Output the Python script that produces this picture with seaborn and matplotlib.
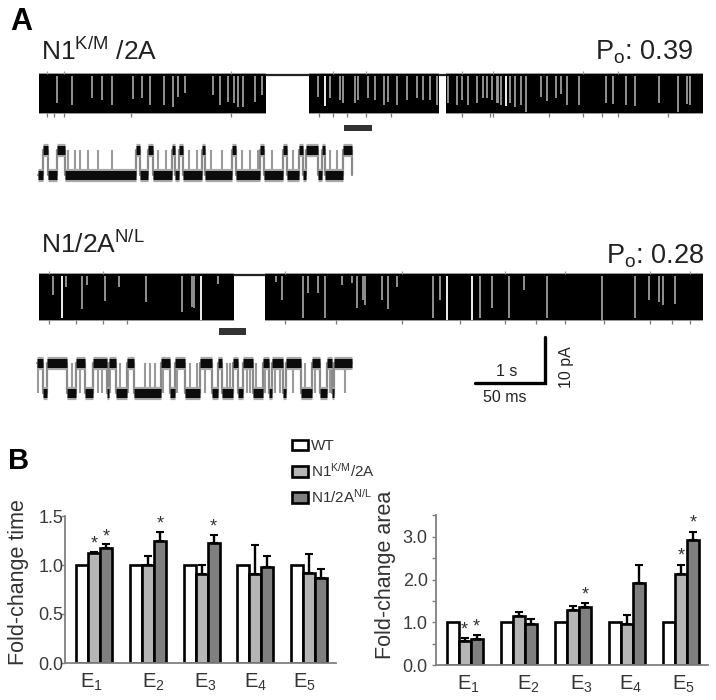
import pandas as pd
import matplotlib
matplotlib.use('Agg')
import matplotlib.pyplot as plt
import seaborn as sns

sns.set_theme(style='white')
plt.rcParams['font.family'] = ['Liberation Sans', 'DejaVu Sans']
plt.rcParams['mathtext.default'] = 'regular'

# --- bar chart data ---
events = ['$E_1$', '$E_2$', '$E_3$', '$E_4$', '$E_5$']
groups = ['WT', 'N1$^{K/M}$/2A', 'N1/2A$^{N/L}$']

time_wt = [1.0, 1.0, 1.0, 1.0, 1.0]
time_km = [1.12, 1.0, 0.91, 0.91, 0.92]
time_nl = [1.17, 1.25, 1.22, 0.98, 0.87]
time_km_err = [0.01, 0.09, 0.09, 0.29, 0.19]
time_nl_err = [0.04, 0.09, 0.09, 0.11, 0.09]
time_km_sig = [1, 0, 0, 0, 0]
time_nl_sig = [1, 1, 1, 0, 0]

area_wt = [1.0, 1.0, 1.0, 1.0, 1.0]
area_km = [0.57, 1.15, 1.28, 0.97, 2.13]
area_nl = [0.60, 0.97, 1.35, 1.92, 2.92]
area_km_err = [0.06, 0.10, 0.09, 0.20, 0.22]
area_nl_err = [0.10, 0.10, 0.10, 0.41, 0.20]
area_km_sig = [1, 0, 0, 0, 1]
area_nl_sig = [1, 0, 1, 0, 1]

bar_colors = ['#ffffff', '#b5b5b5', '#7f7f7f']

# the E labels do not sit quite under their groups in the original
time_label_shift = [-0.04, 0.11, 0.07, 0.0, -0.09]
area_label_shift = [0.07, 0.18, 0.15, 0.07, 0.04]

# --- current traces (x, y in image pixels) ---
trace1_open = [(39, 266), (309, 439), (446, 703)]
trace1_levels = (74, 113)
trace1_closed = [(266, 309), (439, 446)]
trace1_dips = [(57, 103), (72, 105), (92, 98), (102, 100), (112, 105), (133, 99), (142, 98),
               (150, 105), (164, 105), (173, 107), (178, 97), (185, 93), (213, 95), (220, 105),
               (228, 102), (234, 103), (238, 107), (243, 107), (255, 102), (262, 95),
               (318, 97), (330, 98), (340, 100), (343, 103), (355, 103), (358, 100), (368, 98),
               (375, 100), (384, 105), (388, 102), (397, 105), (407, 100), (417, 98), (423, 100),
               (430, 100), (437, 105), (448, 103), (457, 105), (462, 100), (468, 105), (477, 103),
               (483, 98), (492, 100), (498, 103), (487, 98), (497, 103), (501, 105), (510, 103),
               (515, 107), (521, 105), (526, 112), (541, 97), (547, 101), (556, 98), (561, 94),
               (567, 105), (579, 105), (606, 103), (613, 104), (626, 105), (635, 106), (659, 103),
               (678, 112), (687, 104), (690, 105)]
trace1_white = [(325, 106), (506, 106)]
trace1_ticks = [47, 54, 64, 131, 231, 319, 333, 347, 366, 391, 462, 490, 493, 549, 583, 602, 618, 668]

trace2_open = [(39, 234), (265, 703)]
trace2_levels = (274, 320)
trace2_closed = [(234, 265)]
trace2_dips = [(53, 295), (66, 287), (82, 309), (87, 285), (105, 301), (119, 287), (146, 302),
               (182, 312), (192, 307), (194, 308), (218, 284), (276, 282), (282, 300), (303, 318),
               (308, 293), (318, 293), (325, 318), (342, 285), (352, 283), (357, 308), (363, 300),
               (365, 305), (382, 300), (388, 309), (397, 287), (433, 318), (440, 300), (480, 318),
               (492, 308), (509, 318), (524, 290), (547, 318), (602, 320), (635, 318), (649, 300),
               (659, 302), (663, 305), (675, 304)]
trace2_white = [(62, 318), (201, 320), (447, 320), (472, 320)]
trace2_ticks = [49, 76, 103, 127, 285, 336, 402, 460, 505, 536, 565, 604, 650, 672, 690]

detail1_x = (38, 352)
detail1_levels = (175, 150)
detail1_bursts = [(43, 48), (57, 65), (136, 140), (148, 153), (172, 175), (179, 183), (202, 205),
                  (232, 236), (260, 264), (283, 287), (299, 303), (306, 318), (322, 325), (343, 352)]
detail1_spikes = [68, 75, 80, 88, 98, 112, 158, 166, 189, 197, 211, 222, 242, 250, 258, 272, 293, 330, 337]

detail2_x = (37, 352)
detail2_levels = (363, 393)
detail2_bursts = [(43, 47), (67, 76), (85, 93), (107, 109), (116, 127), (134, 161), (170, 175),
                  (185, 200), (212, 218), (222, 233), (238, 243), (253, 263), (269, 272),
                  (283, 286), (301, 312), (320, 327), (332, 334)]
detail2_spikes = [38, 72, 80, 93, 98, 102, 110, 120, 128, 145, 150, 155, 163, 177, 190, 197, 205,
                  227, 230, 247, 250, 256, 265, 275, 280, 293, 305, 315, 330, 345]

# --- figure ---
fig = plt.figure(figsize=(7.16, 7.0), dpi=100)
canvas = fig.add_axes([0, 0, 1, 1])
canvas.set_xlim(0, 716)
canvas.set_ylim(700, 0)
canvas.axis('off')


def draw_band(open_segs, levels, closed, dips, white, ticks):
    top, bottom = levels
    for x0, x1 in open_segs:
        canvas.fill_between([x0, x1], top - 1, bottom + 1, color='#999999', lw=0)
        canvas.fill_between([x0, x1], top, bottom, color='black', lw=0)
    for x0, x1 in closed:
        canvas.plot([x0, x1], [top + 1, top + 1], color='#222222', lw=1.6)
    canvas.vlines([d[0] for d in dips], top + 2, [d[1] for d in dips], color='#9c9c9c', lw=1.3)
    canvas.vlines([d[0] for d in white], top + 2, [d[1] for d in white], color='#f0f0f0', lw=1.4)
    canvas.vlines(ticks, bottom, bottom + 4, color='#777777', lw=0.9)
    canvas.vlines(ticks[::2], top - 3, top, color='#999999', lw=0.9)


def draw_detail(x_range, levels, bursts, spikes):
    base, alt = levels
    xs, ys = [x_range[0]], [base]
    for x0, x1 in bursts:
        xs += [x0, x0, x1, x1]
        ys += [base, alt, alt, base]
    xs.append(x_range[1])
    ys.append(base)
    canvas.plot(xs, ys, color='#8a8a8a', lw=1.6, zorder=2)
    start = x_range[0]
    stretches = []
    for x0, x1 in bursts:
        stretches.append((x0, x1, alt))
        stretches.append((start, x0, base))
        start = x1
    stretches.append((start, x_range[1], base))
    for x0, x1, y in stretches:
        canvas.plot([x0, x1], [y, y], color='#a8a8a8', lw=9.5, solid_capstyle='butt', zorder=2)
    for x0, x1, y in stretches:
        canvas.plot([x0, x1], [y, y], color='#0c0c0c', lw=6.5, solid_capstyle='butt', zorder=3)
    canvas.vlines(spikes, base, alt, color='#9a9a9a', lw=1.5, zorder=1)


draw_band(trace1_open, trace1_levels, trace1_closed, trace1_dips, trace1_white, trace1_ticks)
draw_band(trace2_open, trace2_levels, trace2_closed, trace2_dips, trace2_white, trace2_ticks)
draw_detail(detail1_x, detail1_levels, detail1_bursts, detail1_spikes)
draw_detail(detail2_x, detail2_levels, detail2_bursts, detail2_spikes)

# bars marking the expanded stretch
canvas.fill_between([344, 372], 125, 131, color='#333333', lw=0)
canvas.fill_between([219, 246], 328, 335, color='#333333', lw=0)

# scale bar
canvas.plot([475, 545, 545], [383, 383, 337], color='black', lw=2.4, solid_joinstyle='miter')
canvas.text(507, 372, '1 s', fontsize=11.5, ha='center', va='center', color='#222222')
canvas.text(505, 398, '50 ms', fontsize=11.5, ha='center', va='center', color='#222222')
canvas.text(566, 367, '10 pA', fontsize=11.5, ha='center', va='center', rotation=90, color='#222222')

# panel text
canvas.text(10, 22, 'A', fontsize=22, fontweight='bold', va='center', color='black')
canvas.text(8, 461, 'B', fontsize=21, fontweight='bold', va='center', color='black')
canvas.text(41, 60, 'N1$^{K/M}$ /2A', fontsize=19, va='baseline', color='#222222')
canvas.text(41, 253, 'N1/2A$^{N/L}$', fontsize=19, va='baseline', color='#222222')
canvas.text(693, 60, 'P$_o$: 0.39', fontsize=19.5, ha='right', va='baseline', color='#222222')
canvas.text(704, 263, 'P$_o$: 0.28', fontsize=19.5, ha='right', va='baseline', color='#222222')


def bar_panel(rect, xlim, ylim, major, minor, wt, km, nl, km_err, nl_err, km_sig, nl_sig,
              label, label_xy, star_gap, label_shift, ypad):
    ax = fig.add_axes(rect)
    ax.patch.set_alpha(0)
    df = pd.DataFrame({
        'event': events * 3,
        'group': [groups[0]] * 5 + [groups[1]] * 5 + [groups[2]] * 5,
        'value': wt + km + nl,
    })
    sns.barplot(data=df, x='event', y='value', hue='group', palette=bar_colors, edgecolor='black',
                linewidth=1.9, width=0.67, gap=0, errorbar=None, saturation=1, legend=False, ax=ax)
    errs = [km_err, nl_err]
    sigs = [km_sig, nl_sig]
    for cont, err, sig in zip(ax.containers[1:3], errs, sigs):
        xs = [p.get_x() + p.get_width() / 2 for p in cont.patches]
        hs = [p.get_height() for p in cont.patches]
        ax.errorbar(xs, hs, yerr=[[0] * 5, err], fmt='none', ecolor='black', elinewidth=1.7,
                    capsize=3.2, capthick=1.5)
        for x, h, e, s in zip(xs, hs, err, sig):
            if s:
                ax.text(x, h + e + star_gap, '*', fontsize=13, ha='center', va='center', color='#333333')
    ax.set_xticks([i + s for i, s in enumerate(label_shift)])
    ax.set_xticklabels(events)
    ax.set_xlim(*xlim)
    ax.set_ylim(*ylim)
    ax.set_yticks(major)
    ax.set_yticks(minor, minor=True)
    ax.set_yticklabels([f'{v:.1f}' for v in major], fontsize=13, color='#3a3a3a')
    ax.set_xlabel('')
    ax.set_ylabel(label, fontsize=15.5, color='#333333')
    ax.yaxis.set_label_coords(label_xy[0], label_xy[1], transform=canvas.transData)
    ax.tick_params(axis='x', length=0, labelsize=14.5, labelcolor='#333333', pad=6)
    ax.tick_params(axis='y', which='both', left=True, length=3, width=1.0, color='#808080', pad=ypad)
    for side in ['top', 'right']:
        ax.spines[side].set_visible(False)
    for side in ['left', 'bottom']:
        ax.spines[side].set_color('#808080')
        ax.spines[side].set_linewidth(1.3)
    return ax


left_ax = bar_panel([65 / 716, 1 - 663 / 700, 271 / 716, 147 / 700], (-0.54, 4.5), (0, 1.5),
                    [0.0, 0.5, 1.0, 1.5], [], time_wt, time_km, time_nl, time_km_err, time_nl_err,
                    time_km_sig, time_nl_sig, 'Fold-change time', (29, 582), 0.08, time_label_shift, -2)
right_ax = bar_panel([436 / 716, 1 - 665 / 700, 272 / 716, 150 / 700], (-0.53, 4.5), (0, 3.51),
                     [0.0, 1.0, 2.0, 3.0], [0.5, 1.5, 2.5, 3.5], area_wt, area_km, area_nl, area_km_err,
                     area_nl_err, area_km_sig, area_nl_sig, 'Fold-change area', (396, 575), 0.2,
                     area_label_shift, 3)

# legend built from the left panel's bars
handles = [c.patches[0] for c in left_ax.containers[:3]]
fig.legend(handles, groups, loc='upper left', bbox_to_anchor=(280 / 716, 1 - 427 / 700), frameon=False,
           fontsize=11, handlelength=1.05, handleheight=0.7, handletextpad=0.2, labelspacing=0.55,
           borderpad=0.3, labelcolor='#333333')

plt.savefig('out.png', dpi=100)
plt.close()
